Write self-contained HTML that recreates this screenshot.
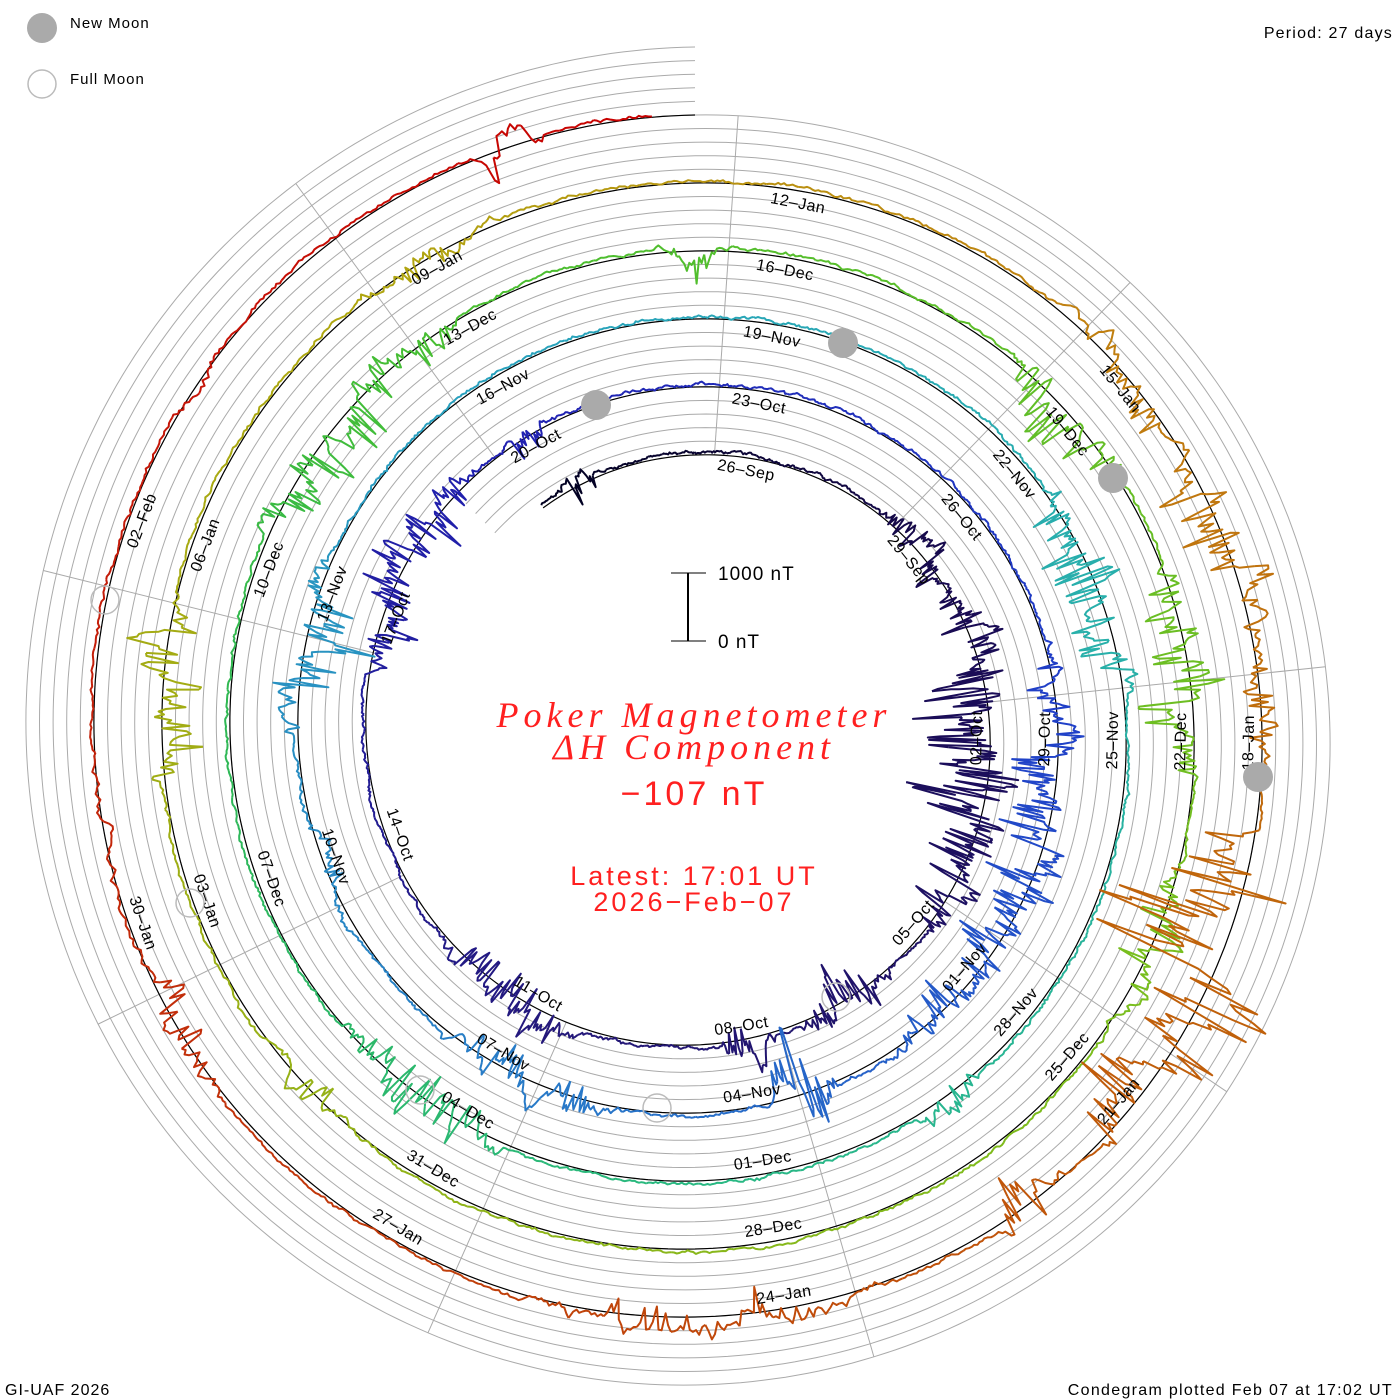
<!DOCTYPE html>
<html><head><meta charset="utf-8"><style>
html,body{margin:0;padding:0;background:#fff;}
svg{display:block;font-family:"Liberation Sans",sans-serif;}
</style></head><body>
<svg id="s" width="1400" height="1400" viewBox="0 0 1400 1400" xmlns="http://www.w3.org/2000/svg">
<rect width="1400" height="1400" fill="#fff"/>
<g id="grid"></g>
<g id="data"></g>
<g id="labels" font-size="16" fill="#000"></g>
<g id="moons">
<circle cx="596" cy="405" r="15" fill="#aaa"/>
<circle cx="843" cy="343" r="15" fill="#aaa"/>
<circle cx="1113" cy="478" r="15" fill="#aaa"/>
<circle cx="1258" cy="777" r="15" fill="#aaa"/>
<circle cx="105" cy="600" r="14" fill="none" stroke="#bbb" stroke-width="1.5"/>
<circle cx="190" cy="903" r="14" fill="none" stroke="#bbb" stroke-width="1.5"/>
<circle cx="420" cy="1090" r="14" fill="none" stroke="#bbb" stroke-width="1.5"/>
<circle cx="657" cy="1108" r="14" fill="none" stroke="#bbb" stroke-width="1.5"/>
<circle cx="836" cy="997" r="14" fill="none" stroke="#bbb" stroke-width="1.5"/>
</g>
<circle cx="42" cy="28" r="15" fill="#aaa"/>
<circle cx="42" cy="84" r="14" fill="none" stroke="#bbb" stroke-width="1.5"/>
<text x="70" y="28" font-size="15" letter-spacing="1">New Moon</text>
<text x="70" y="84" font-size="15" letter-spacing="1">Full Moon</text>
<text x="1393" y="38" font-size="16" text-anchor="end" letter-spacing="1.2">Period: 27 days</text>
<text x="5" y="1395" font-size="16" letter-spacing="1">GI-UAF 2026</text>
<text x="1393" y="1395" font-size="16" text-anchor="end" letter-spacing="1.3">Condegram plotted Feb 07 at 17:02 UT</text>
<line x1="688" y1="573" x2="688" y2="641" stroke="#000" stroke-width="2"/>
<line x1="671" y1="573" x2="706" y2="573" stroke="#000" stroke-width="1"/>
<line x1="671" y1="641" x2="706" y2="641" stroke="#000" stroke-width="1"/>
<text x="718" y="580" font-size="19" letter-spacing="1">1000 nT</text>
<text x="718" y="648" font-size="19" letter-spacing="1">0 nT</text>
<g fill="#ff2020" text-anchor="middle">
<text x="694" y="727" font-size="36" font-style="italic" font-family="Liberation Serif,serif" letter-spacing="5">Poker Magnetometer</text>
<text x="694" y="759" font-size="36" font-style="italic" font-family="Liberation Serif,serif" letter-spacing="5">ΔH Component</text>
<text x="694" y="805" font-size="34" letter-spacing="3">−107 nT</text>
<text x="694" y="885" font-size="27" letter-spacing="3">Latest: 17:01 UT</text>
<text x="694" y="911" font-size="27" letter-spacing="3">2026−Feb−07</text>
</g>
</svg>
<script>
(function(){
var CX=695,CY=733,R0=278,K=68/360;
var NS="http://www.w3.org/2000/svg";
function r(t){return R0+K*t;}
function pt(t,rr){var a=t*Math.PI/180;return [CX+rr*Math.sin(a),CY-rr*Math.cos(a)];}
function el(tag,attrs,parent){var e=document.createElementNS(NS,tag);for(var k in attrs)e.setAttribute(k,attrs[k]);parent.appendChild(e);return e;}
var grid=document.getElementById('grid'),data=document.getElementById('data'),labels=document.getElementById('labels');
var T0=-34,T1=1800;
for(var j=1;j<=5;j++){var p=[];for(var t=-45;t<=T1;t+=1){var q=pt(t,r(t)+j*13.6);p.push(q[0].toFixed(1)+','+q[1].toFixed(1));}
el('polyline',{points:p.join(' '),fill:'none',stroke:'#aaa','stroke-width':1},grid);}
for(var b=4;b<364;b+=40){var tf=b;while(tf-360>=T0)tf-=360;if(tf<T0)tf+=360;var tl=tf;while(tl+360<=T1)tl+=360;
var a=pt(tf,r(tf)),c=pt(tl,r(tl)+68);el('line',{x1:a[0],y1:a[1],x2:c[0],y2:c[1],stroke:'#aaa','stroke-width':1},grid);}
var p=[];for(var t=T0;t<=T1;t+=1){var q=pt(t,r(t));p.push(q[0].toFixed(1)+','+q[1].toFixed(1));}
el('polyline',{points:p.join(' '),fill:'none',stroke:'#000','stroke-width':1.2},grid);
var months=['Jan','Feb','Mar','Apr','May','Jun','Jul','Aug','Sep','Oct','Nov','Dec'];
var d0=Date.UTC(2025,8,26);
for(var k=0;k<=43;k++){var t=11+40*k;var d=new Date(d0+k*3*86400000);
var s=('0'+d.getUTCDate()).slice(-2)+'\u2013'+months[d.getUTCMonth()];
var bb=((t%360)+360)%360;var rot=(bb>90&&bb<270)?bb-180:(bb>=270?bb-360:bb);
var q=pt(t,r(t)-13);
var tx=el('text',{x:q[0].toFixed(1),y:q[1].toFixed(1),'text-anchor':'middle','dominant-baseline':'central','letter-spacing':'0.5',transform:'rotate('+rot.toFixed(1)+' '+q[0].toFixed(1)+' '+q[1].toFixed(1)+')'},labels);tx.textContent=s;}
var seed=12345;function rnd(){seed=(seed*1103515245+12345)%2147483648;return seed/2147483648;}
var actB=[[1,-30,-20,20],[1,40,60,25],[1,60,130,50],[1,140,160,30],[1,165,175,30],[1,200,230,25],[1,280,320,35],
[2,-35,-25,20],[2,75,150,35],[2,158,168,40],[2,190,220,22],[2,240,260,15],[2,270,295,40],
[3,55,85,40],[3,140,150,25],[3,205,230,35],[3,295,330,35],
[4,-5,5,20],[4,40,60,30],[4,70,95,40],[4,105,125,25],[4,220,235,15],[4,265,285,40],[4,320,340,15],
[5,40,60,20],[5,60,80,40],[5,80,95,20],[5,100,135,85],[5,140,150,30],[5,160,200,20],[5,230,250,18],[5,250,270,10],[5,300,310,12],[5,338,346,28]];
var act=actB.map(function(A){var o=360*(A[0]-1);return [A[1]+o,A[2]+o,A[3]];});
function amp(t){var a=3;for(var i=0;i<act.length;i++){var A=act[i];if(t>=A[0]&&t<=A[1]){var f=Math.sin(Math.PI*(t-A[0])/(A[1]-A[0]));a=Math.max(a,A[2]*(0.3+0.7*f));}}return a;}
var stops=[[-34,[0,0,30]],[60,[24,10,80]],[200,[36,24,120]],[326,[32,32,176]],[450,[32,64,200]],[560,[40,120,200]],[686,[40,160,190]],[800,[40,176,170]],[900,[40,184,130]],[1000,[48,184,80]],[1046,[70,190,50]],[1200,[120,190,30]],[1406,[176,166,16]],[1480,[192,130,16]],[1560,[192,96,10]],[1650,[192,60,10]],[1720,[196,30,10]],[1800,[200,0,0]]];
function col(t){for(var i=0;i<stops.length-1;i++){var A=stops[i],B=stops[i+1];if(t<=B[0]){var f=(t-A[0])/(B[0]-A[0]);var c=A[1].map(function(v,n){return Math.round(v+(B[1][n]-v)*f);});return 'rgb('+c.join(',')+')';}}return 'rgb(200,0,0)';}
var x=0,seg=[],segStart=T0;
for(var t=T0;t<=1796;t+=0.3){var a=amp(t);x=x*0.85+(rnd()-0.5)*0.9;var v=x*a*0.8+(rnd()-0.5)*1.5;
if(a>14&&rnd()<0.3)v-=rnd()*a*1.2;else if(a>14&&rnd()<0.1)v+=rnd()*a*0.6;
var q=pt(t,r(t)+3+v);var s=q[0].toFixed(1)+','+q[1].toFixed(1);seg.push(s);
if(t-segStart>=3){el('polyline',{points:seg.join(' '),fill:'none',stroke:col(t),'stroke-width':2,'stroke-linejoin':'round'},data);seg=[s];segStart=t;}}
if(seg.length>1)el('polyline',{points:seg.join(' '),fill:'none',stroke:col(1796),'stroke-width':2},data);
})();
</script>
</body></html>
